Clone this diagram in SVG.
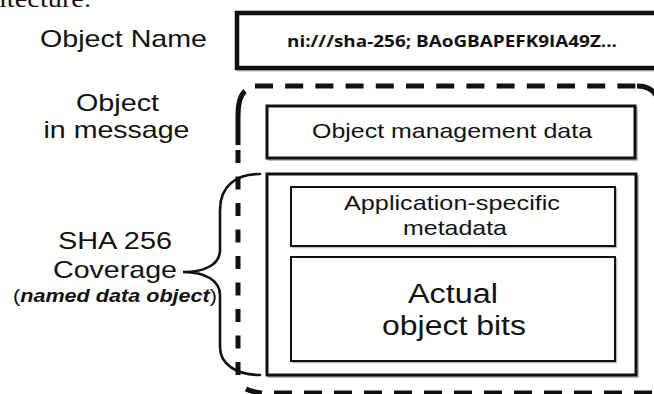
<svg xmlns="http://www.w3.org/2000/svg" width="654" height="394" viewBox="0 0 654 394">
  <defs>
    <style>
      .lbl { font-family: "Liberation Sans", Arial, sans-serif; fill: #111; text-anchor: middle; }
      .box { fill: #fff; stroke: #111; }
      .shadow { fill: none; stroke: #bbb; }
      .dash { fill: none; stroke: #111; stroke-width: 5; }
      .brace { fill: none; stroke: #111; stroke-width: 2.6; stroke-linecap: round; }
    </style>
  </defs>
  <rect width="654" height="394" fill="#fff"/>

  <!-- running text cut at the top edge -->
  <text x="-1" y="7" font-family="'Liberation Serif', 'Times New Roman', serif" font-size="23" fill="#111" textLength="92" lengthAdjust="spacingAndGlyphs">itecture.</text>

  <!-- left-hand labels -->
  <g id="label-name">
    <text class="lbl" x="123.5" y="47" font-size="24" textLength="167" lengthAdjust="spacingAndGlyphs">Object Name</text>
  </g>
  <g id="label-message">
    <text class="lbl" x="117.5" y="111" font-size="24" textLength="83" lengthAdjust="spacingAndGlyphs">Object</text>
    <text class="lbl" x="116.5" y="138" font-size="24" textLength="146" lengthAdjust="spacingAndGlyphs">in message</text>
  </g>
  <g id="label-coverage">
    <text class="lbl" x="115" y="249" font-size="24" textLength="114" lengthAdjust="spacingAndGlyphs">SHA 256</text>
    <text class="lbl" x="115" y="278" font-size="24" textLength="124" lengthAdjust="spacingAndGlyphs">Coverage</text>
    <text class="lbl" x="115" y="302" font-size="18" textLength="204" lengthAdjust="spacingAndGlyphs">(<tspan font-weight="bold" font-style="italic">named data object</tspan>)</text>
  </g>

  <!-- object name box -->
  <g id="object-name">
    <rect class="shadow" x="239" y="15" width="430" height="55" stroke-width="3"/>
    <rect class="box" x="237" y="13" width="430" height="55" stroke-width="4.5"/>
    <text x="452" y="47" font-family="'Open Sans', 'DejaVu Sans', sans-serif" font-weight="bold" font-size="15.5" fill="#111" text-anchor="middle" textLength="330" lengthAdjust="spacingAndGlyphs">ni:///sha-256; BAoGBAPEFK9IA49Z...</text>
  </g>

  <!-- object in message: dashed outline -->
  <g id="message-outline">
    <path class="dash" d="M 255 86 H 640" stroke-dasharray="18 12.2"/>
    <path class="dash" d="M 637 86 Q 650 86 656 95"/>
    <path class="dash" d="M 238 145 V 116 Q 238 97 245 91"/>
    <path class="dash" d="M 238 150 V 382" stroke-dasharray="13 13.5"/>
    <path class="dash" d="M 246 389 Q 252 392 262 393"/>
    <path class="dash" d="M 274 393 H 660" stroke-dasharray="18 12"/>
  </g>

  <g id="management-data">
    <rect class="shadow" x="269" y="108" width="368" height="52" stroke-width="2"/>
    <rect class="box" x="267" y="106" width="368" height="52" stroke-width="3"/>
    <text class="lbl" x="452" y="138" font-size="21" textLength="280" lengthAdjust="spacingAndGlyphs">Object management data</text>
  </g>

  <g id="named-data-object">
    <rect class="shadow" x="269" y="176" width="369" height="201" stroke-width="2"/>
    <rect class="box" x="267" y="174" width="369" height="201" stroke-width="3"/>
  </g>

  <g id="app-metadata">
    <rect class="shadow" x="292.5" y="188.5" width="324" height="59" stroke-width="1.5"/>
    <rect class="box" x="291" y="187" width="324" height="59" stroke-width="2"/>
    <text class="lbl" x="452" y="210" font-size="21" textLength="216" lengthAdjust="spacingAndGlyphs">Application-specific</text>
    <text class="lbl" x="455" y="235" font-size="21" textLength="104" lengthAdjust="spacingAndGlyphs">metadata</text>
  </g>

  <g id="object-bits">
    <rect class="shadow" x="292.5" y="258.5" width="324" height="104" stroke-width="1.5"/>
    <rect class="box" x="291" y="257" width="324" height="104" stroke-width="2"/>
    <text class="lbl" x="453" y="303" font-size="27" textLength="90" lengthAdjust="spacingAndGlyphs">Actual</text>
    <text class="lbl" x="454" y="335" font-size="27" textLength="144" lengthAdjust="spacingAndGlyphs">object bits</text>
  </g>

  <!-- coverage brace -->
  <g id="connectors">
    <path class="brace" d="M 260 174 C 236 174 220 186 220 210 V 250 C 220 264 206 272 183 272 C 206 272 220 281 220 295 V 347 C 220 364 236 375 260 375"/>
  </g>
</svg>
